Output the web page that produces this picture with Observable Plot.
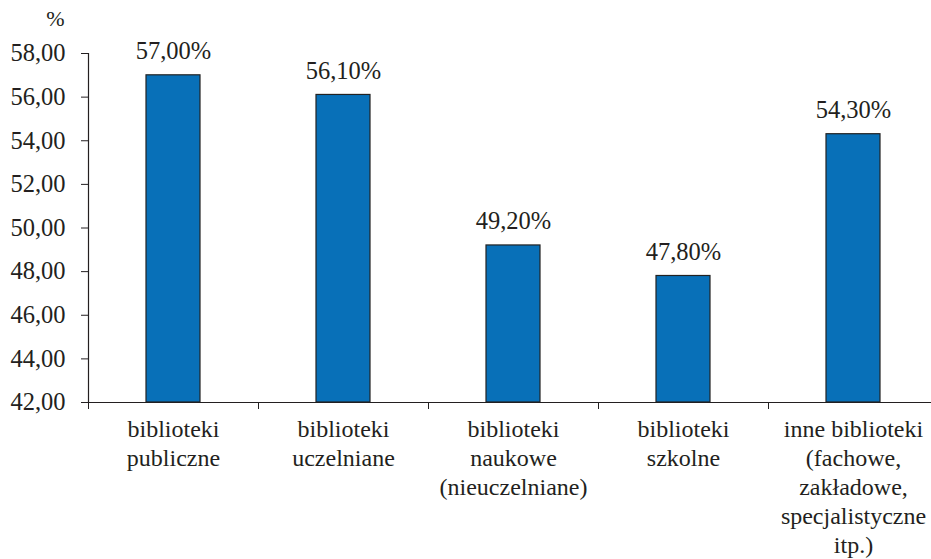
<!DOCTYPE html>
<html>
<head>
<meta charset="utf-8">
<script src="https://cdn.jsdelivr.net/npm/d3@7"></script>
<script src="https://cdn.jsdelivr.net/npm/@observablehq/plot@0.6"></script>
<style>
  html, body { margin: 0; padding: 0; background: #fff; }
  #chart svg { display: block; }
  #chart svg, #chart svg text { font-family: "Liberation Serif", "Times New Roman", serif !important; }
</style>
</head>
<body>
<div id="chart"></div>
<script>
const categories = [
  "biblioteki\npubliczne",
  "biblioteki\nuczelniane",
  "biblioteki\nnaukowe\n(nieuczelniane)",
  "biblioteki\nszkolne",
  "inne biblioteki\n(fachowe,\nzakładowe,\nspecjalistyczne\nitp.)"
];
const values = [57.0, 56.1, 49.2, 47.8, 54.3];
const yTicks = [42, 44, 46, 48, 50, 52, 54, 56, 58];
const yUnit = "%";

const data = categories.map((c, i) => ({category: c, value: values[i]}));
const fmtTick = d => d.toFixed(2).replace(".", ",");
const fmtVal = d => (d.toFixed(2) + "%").replace(".", ",");

const font = "Liberation Serif, Times New Roman, serif";
const ink = "#231f20";

const chart = Plot.plot({
  width: 931,
  height: 559,
  marginTop: 53,
  marginBottom: 157,
  marginLeft: 88,
  marginRight: 0,
  style: {fontFamily: font, fontSize: "24px", color: ink, background: "#fff"},
  x: {type: "band", domain: categories, range: [88, 938], padding: 0},
  y: {domain: [42, 58]},
  marks: [
    Plot.barY(data, {
      x: "category", y1: () => 42, y2: "value",
      fill: "#0870b8", stroke: "#222", strokeWidth: 1.2,
      insetLeft: 58, insetRight: 58
    }),
    Plot.text(data, {
      x: "category", y: "value", text: d => fmtVal(d.value),
      lineAnchor: "bottom", dy: -16, fontSize: 24.5, fill: ink, fontFamily: font
    }),
    Plot.ruleY([42], {stroke: ink, strokeWidth: 1.2}),
    Plot.frame({anchor: "left", stroke: ink, strokeWidth: 1.2}),
    Plot.axisY({
      ticks: yTicks, tickFormat: fmtTick, tickSize: 7, tickPadding: 16,
      label: null, fontSize: 24.5, stroke: ink, fill: ink, fontFamily: font
    }),
    Plot.axisX({
      tickSize: 0, tickPadding: 14, label: null, lineHeight: 1.21,
      fontSize: 24, fill: ink, fontFamily: font
    }),
    Plot.axisX({
      tickSize: 7, text: null, label: null, dx: -85, stroke: ink
    }),
    Plot.text([yUnit], {
      frameAnchor: "top-left", dx: -33, dy: -35, lineAnchor: "middle",
      textAnchor: "middle", fontSize: 22, fill: ink, fontFamily: font
    })
  ]
});
document.getElementById("chart").appendChild(chart);
</script>
</body>
</html>
